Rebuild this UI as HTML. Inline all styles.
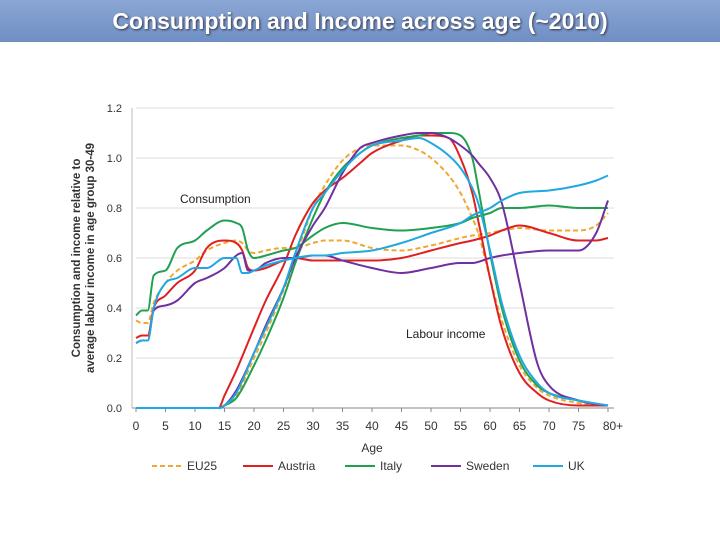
<!DOCTYPE html>
<html><head><meta charset="utf-8"><style>
body{margin:0;width:720px;height:540px;background:#fff;overflow:hidden;font-family:"Liberation Sans",sans-serif}
#title{position:absolute;left:0;top:0;width:720px;height:42px;background:linear-gradient(#8aa6d4,#6f8fc4);color:#fff;font-weight:bold;font-size:23px;text-align:center;line-height:42px;text-shadow:1px 1px 2px #334}
svg{position:absolute;left:0;top:0}
</style></head><body>
<div id="title">Consumption and Income across age (~2010)</div>
<svg id="chart" width="720" height="540"></svg>
<script>
const consAges=[0,1,2,3,5,7,10,12,15,17,18,19,20,22,25,27,30,32,35,40,45,50,55,57,60,62,65,70,75,78,80];
const consEU25=[0.35,0.34,0.34,0.42,0.50,0.55,0.59,0.63,0.66,0.67,0.66,0.63,0.62,0.63,0.64,0.64,0.66,0.67,0.67,0.64,0.63,0.65,0.68,0.69,0.70,0.71,0.72,0.71,0.71,0.73,0.78];
const consAustria=[0.28,0.29,0.29,0.40,0.45,0.50,0.55,0.64,0.67,0.66,0.63,0.56,0.55,0.56,0.59,0.60,0.59,0.59,0.59,0.59,0.60,0.63,0.66,0.67,0.69,0.71,0.73,0.70,0.67,0.67,0.68];
const consItaly=[0.37,0.39,0.39,0.53,0.55,0.64,0.67,0.71,0.75,0.74,0.72,0.63,0.60,0.61,0.63,0.64,0.69,0.72,0.74,0.72,0.71,0.72,0.74,0.76,0.78,0.80,0.80,0.81,0.80,0.80,0.80];
const consSweden=[0.26,0.27,0.27,0.39,0.41,0.43,0.50,0.52,0.56,0.61,0.62,0.55,0.55,0.58,0.60,0.60,0.61,0.61,0.59,0.56,0.54,0.56,0.58,0.58,0.60,0.61,0.62,0.63,0.63,0.70,0.83];
const consUK=[0.26,0.27,0.27,0.40,0.50,0.52,0.56,0.56,0.60,0.60,0.54,0.54,0.55,0.57,0.59,0.60,0.61,0.61,0.62,0.63,0.66,0.70,0.74,0.77,0.80,0.83,0.86,0.87,0.89,0.91,0.93];
const incAges=[0,14,15,17,20,22,25,27,30,32,35,38,40,45,48,50,53,55,57,58,60,62,65,68,70,75,80];
const incAustria=[0,0,0.05,0.15,0.32,0.43,0.57,0.69,0.82,0.87,0.92,0.98,1.02,1.07,1.09,1.09,1.08,1.00,0.86,0.75,0.52,0.32,0.14,0.06,0.03,0.01,0.01];
const incItaly=[0,0,0.01,0.04,0.17,0.27,0.44,0.58,0.76,0.86,0.96,1.02,1.05,1.08,1.09,1.10,1.10,1.09,1.00,0.88,0.62,0.40,0.19,0.09,0.06,0.03,0.01];
const incSweden=[0,0,0.01,0.07,0.22,0.33,0.48,0.60,0.73,0.80,0.94,1.04,1.06,1.09,1.10,1.10,1.08,1.05,1.01,0.98,0.92,0.82,0.50,0.18,0.09,0.03,0.01];
const incUK=[0,0,0.01,0.06,0.22,0.32,0.48,0.62,0.80,0.86,0.95,1.02,1.05,1.07,1.08,1.06,1.01,0.96,0.88,0.82,0.63,0.42,0.21,0.10,0.06,0.03,0.01];
const incEU25=[0,0,0.01,0.05,0.20,0.30,0.47,0.60,0.80,0.89,0.99,1.04,1.05,1.05,1.03,1.00,0.93,0.86,0.76,0.70,0.52,0.35,0.17,0.08,0.05,0.02,0.01];
const yTicks=[0,0.2,0.4,0.6,0.8,1.0,1.2];
const xTicks=[0,5,10,15,20,25,30,35,40,45,50,55,60,65,70,75,80];
const xTickLabels=["0","5","10","15","20","25","30","35","40","45","50","55","60","65","70","75","80+"];

const NS="http://www.w3.org/2000/svg",svg=document.getElementById('chart');
const X0=136,X1=608,Y0=408,Y1=108;
const xs=v=>X0+(X1-X0)*v/80, ys=v=>Y0-(Y0-Y1)*v/1.2;
function mk(t,a,p){const e=document.createElementNS(NS,t);for(const k in a)e.setAttribute(k,a[k]);(p||svg).appendChild(e);return e;}
yTicks.forEach(v=>{
  if(v>0){const g=mk('line',{x1:X0,x2:X1+6,y1:ys(v),y2:ys(v),stroke:'#ddd','stroke-width':1});
  
  }
  const t=mk('text',{x:X0-14,y:ys(v)+4,'text-anchor':'end','font-size':11,fill:'#333'});t.textContent=v.toFixed(1);
  
  
});
const ax=mk('line',{x1:X0-4,x2:X1+6,y1:Y0,y2:Y0,stroke:'#888'});


const ay=mk('line',{x1:X0-4,x2:X0-4,y1:Y1,y2:Y0,stroke:'#bbb'});


xTicks.forEach((v,i)=>{
  mk('line',{x1:xs(v),x2:xs(v),y1:Y0,y2:Y0+4,stroke:'#888'});
  const t=mk('text',{x:xs(v)+(i==16?5:0),y:Y0+22,'text-anchor':'middle','font-size':12,fill:'#333'});t.textContent=xTickLabels[i];
  
  
});
// monotone cubic (Fritsch-Carlson) path, no overshoot
function path(a,v){
  const P=a.map((x,i)=>[xs(x),ys(v[i])]),n=P.length;
  const d=[],m=[];
  for(let i=0;i<n-1;i++)d.push((P[i+1][1]-P[i][1])/(P[i+1][0]-P[i][0]));
  m[0]=d[0];m[n-1]=d[n-2];
  for(let i=1;i<n-1;i++){m[i]=(d[i-1]*d[i]<=0)?0:(d[i-1]+d[i])/2;}
  for(let i=0;i<n-1;i++){if(d[i]===0){m[i]=0;m[i+1]=0;continue;}
    const al=m[i]/d[i],be=m[i+1]/d[i],s=al*al+be*be;
    if(s>9){const t=3/Math.sqrt(s);m[i]=t*al*d[i];m[i+1]=t*be*d[i];}}
  let s='M'+P[0][0]+','+P[0][1];
  for(let i=0;i<n-1;i++){const h=(P[i+1][0]-P[i][0])/3;
    s+=` C${P[i][0]+h},${P[i][1]+m[i]*h} ${P[i+1][0]-h},${P[i+1][1]-m[i+1]*h} ${P[i+1][0]},${P[i+1][1]}`;}
  return s;}
const series=[
 ['eu25',consEU25,incEU25,'#f0a830',true],
 ['austria',consAustria,incAustria,'#e02020',false],
 ['italy',consItaly,incItaly,'#20a050',false],
 ['sweden',consSweden,incSweden,'#7030a0',false],
 ['uk',consUK,incUK,'#20a8e0',false]];
series.forEach(s=>{
  [[consAges,s[1],'consumption'],[incAges,s[2],'income']].forEach(q=>{
    const p=mk('path',{d:path(q[0],q[1]),fill:'none',stroke:s[3],'stroke-width':2,'stroke-dasharray':s[4]?'5,3':'none'});
    
    
  });
});
const l1=mk('text',{x:180,y:203,'font-size':12,fill:'#222'});l1.textContent='Consumption';


const l2=mk('text',{x:406,y:338,'font-size':12,fill:'#222'});l2.textContent='Labour income';


const xt=mk('text',{x:372,y:452,'text-anchor':'middle','font-size':12,fill:'#333'});xt.textContent='Age';


const yt=mk('text',{transform:'translate(80,258) rotate(-90)','text-anchor':'middle','font-size':11.5,'font-weight':'bold',fill:'#333'});


const t1=mk('tspan',{x:0,dy:0},yt);t1.textContent='Consumption and income relative to';
const t2=mk('tspan',{x:0,dy:14},yt);t2.textContent='average labour income in age group 30-49';
const leg=[['EU25',152,'#f0a830',true],['Austria',243,'#e02020',false],['Italy',345,'#20a050',false],['Sweden',431,'#7030a0',false],['UK',533,'#20a8e0',false]];
leg.forEach(l=>{
  const g=mk('g',{});
  
  
  mk('line',{x1:l[1],x2:l[1]+30,y1:466,y2:466,stroke:l[2],'stroke-width':2,'stroke-dasharray':l[3]?'5,3':'none'},g);
  const t=mk('text',{x:l[1]+35,y:470,'font-size':12,fill:'#333'},g);t.textContent=l[0];
});
</script>
</body></html>
